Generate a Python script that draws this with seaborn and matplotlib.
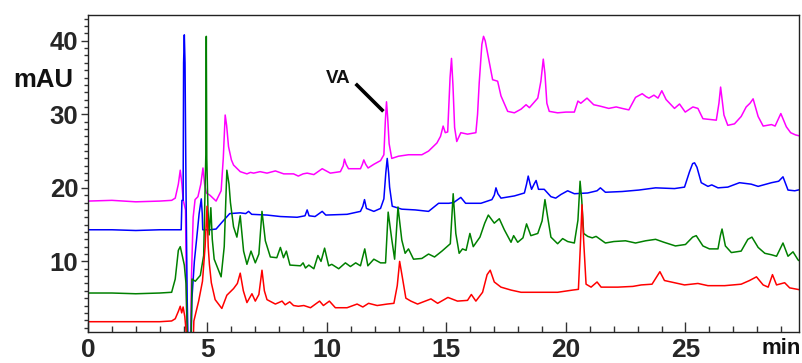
import numpy as np
import pandas as pd
import matplotlib
matplotlib.use("Agg")
import matplotlib.pyplot as plt
from matplotlib.ticker import MultipleLocator
import seaborn as sns

# ---- data (retention time in min, absorbance in mAU) ----
magenta_t = [0, 1.0, 2.0, 3.0, 3.5, 3.65, 3.78, 3.86, 3.93, 3.98, 4.08, 4.13, 4.16, 4.28, 4.33, 4.4, 4.48, 4.6, 4.72, 4.81,
             4.88, 4.95, 5.1, 5.36, 5.57, 5.66, 5.74, 5.8, 5.88, 6.0, 6.09, 6.37, 6.65, 6.8, 6.93, 7.2, 7.49, 7.84, 8.19, 8.6,
             8.8, 9.0, 9.17, 9.45, 9.8, 10.14, 10.56, 10.68, 10.73, 10.8, 10.9, 11.4, 11.48, 11.54, 11.62, 11.72, 11.96, 12.24, 12.38, 12.44,
             12.49, 12.54, 12.6, 12.71, 12.99, 13.41, 13.97, 14.25, 14.6, 14.75, 14.86, 14.95, 15.05, 15.15, 15.21, 15.27, 15.34, 15.43, 15.6, 15.88,
             16.23, 16.3, 16.37, 16.48, 16.55, 16.62, 16.72, 16.93, 17.14, 17.28, 17.56, 17.84, 18.12, 18.33, 18.47, 18.82, 18.95, 19.05, 19.12, 19.2,
             19.3, 19.65, 20.0, 20.35, 20.5, 20.62, 20.88, 21.16, 21.44, 21.79, 22.1, 22.35, 22.63, 22.91, 23.19, 23.35, 23.47, 23.68, 23.85, 24.01,
             24.19, 24.54, 24.75, 24.99, 25.31, 25.52, 25.73, 26.29, 26.4, 26.47, 26.55, 26.61, 26.77, 27.05, 27.33, 27.54, 27.7, 27.83, 28.04, 28.25,
             28.6, 28.75, 28.99, 29.22, 29.4, 29.6, 29.85]
magenta_y = [18.2, 18.3, 18.1, 18.2, 18.3, 18.6, 20.5, 22.4, 20.5, 18.4, 17.0, 2.0, -3, -3, 8, 16, 18.4, 18.8, 20.5, 22.7,
             20.5, 19.3, 19.0, 18.2, 19.6, 24, 29.9, 28.5, 25.6, 23.8, 23.1, 22.2, 21.9, 22.1, 22.0, 22.2, 22.0, 22.3, 21.9, 21.9,
             21.6, 21.9, 22.0, 21.8, 22.6, 22.0, 22.2, 23.0, 23.9, 23.2, 22.6, 22.6, 23.2, 23.8, 23.2, 22.7, 23.2, 23.7, 24.5, 29,
             31.7, 29.5, 26, 24.0, 24.3, 24.5, 24.5, 25.0, 26.1, 27.0, 28.4, 27.5, 27.6, 35, 37.6, 34, 28.2, 26.3, 27.5, 27.3,
             27.5, 30, 34.3, 39.5, 40.6, 40.0, 38.3, 34.7, 34.5, 32.5, 30.4, 30.2, 30.7, 31.3, 30.9, 32.2, 34.5, 37.5, 35.5, 31.5,
             30.4, 30.2, 30.3, 30.3, 31.8, 31.5, 32.2, 31.3, 31.1, 30.8, 31.0, 30.8, 30.6, 32.3, 32.8, 32.4, 32.2, 32.6, 32.2, 33.2,
             32.0, 30.8, 31.4, 30.3, 31.0, 30.8, 29.4, 29.2, 31.5, 33.7, 31.5, 29.9, 28.5, 28.7, 29.7, 31.0, 31.5, 32.1, 29.7, 28.4,
             28.6, 28.4, 30.1, 28.3, 27.5, 27.2, 27.0]

blue_t = [0, 1.0, 2.0, 3.0, 3.9, 3.93, 3.98, 4.0, 4.03, 4.06, 4.1, 4.15, 4.2, 4.3, 4.35, 4.45, 4.55, 4.65, 4.74, 4.78,
          4.8, 5.1, 5.36, 5.6, 5.93, 6.37, 6.6, 6.72, 6.85, 7.49, 8.05, 8.75, 9.08, 9.17, 9.25, 9.5, 9.8, 9.95, 10.84, 11.4,
          11.5, 11.57, 11.65, 11.96, 12.24, 12.38, 12.46, 12.52, 12.58, 12.62, 12.73, 13.13, 13.69, 14.25, 14.67, 15.1, 15.3, 15.6, 15.8, 16.44,
          16.9, 17.0, 17.07, 17.15, 17.28, 17.84, 18.26, 18.35, 18.42, 18.5, 18.56, 18.68, 18.75, 18.85, 19.09, 19.37, 19.57, 19.79, 20.07, 20.35,
          20.91, 21.3, 21.44, 21.65, 22.35, 23.05, 23.75, 24.54, 24.96, 25.17, 25.3, 25.38, 25.48, 25.66, 25.94, 26.1, 26.36, 26.77, 27.26, 27.75,
          28.04, 28.6, 28.9, 29.08, 29.29, 29.57, 29.85]
blue_y = [14.3, 14.3, 14.2, 14.3, 14.3, 18.3, 18.3, 37, 40.8, 37.0, 20, 5, -3, -3, 5, 10, 13.2, 16.5, 18.5, 16.5,
          14.3, 14.3, 14.4, 15.3, 16.5, 16.6, 16.5, 16.8, 16.4, 16.3, 16.1, 16.0, 16.2, 17.0, 16.2, 16.1, 16.8, 16.3, 16.4, 16.8,
          17.5, 18.4, 17.2, 16.8, 17.2, 18.5, 22, 24.0, 22, 20.1, 17.5, 17.1, 17.0, 16.8, 17.9, 17.9, 18.0, 18.7, 17.9, 17.9,
          18.4, 19.0, 20.0, 19.2, 18.6, 18.9, 19.3, 20.5, 21.6, 20.5, 19.8, 20.6, 21.0, 19.8, 19.8, 18.8, 18.6, 19.1, 19.6, 19.2,
          19.3, 19.6, 20.0, 19.4, 19.5, 19.7, 20.0, 19.9, 20.1, 22.2, 23.3, 23.4, 22.8, 20.7, 20.2, 20.4, 20.0, 20.1, 20.7, 20.5,
          20.2, 20.7, 20.9, 21.5, 19.7, 19.6, 19.8]

green_t = [0, 1.0, 2.0, 3.0, 3.5, 3.65, 3.78, 3.86, 3.93, 4.03, 4.1, 4.18, 4.3, 4.35, 4.49, 4.7, 4.84, 4.9, 4.93, 4.95,
           4.97, 5.02, 5.07, 5.14, 5.2, 5.28, 5.57, 5.7, 5.81, 5.9, 5.96, 6.09, 6.23, 6.37, 6.51, 6.65, 6.82, 7.0, 7.15, 7.28,
           7.42, 7.63, 7.9, 8.05, 8.18, 8.3, 8.45, 8.89, 9.0, 9.1, 9.24, 9.45, 9.62, 9.75, 9.9, 10.07, 10.2, 10.49, 10.77, 10.98,
           11.2, 11.4, 11.58, 11.71, 11.96, 12.24, 12.45, 12.56, 12.71, 12.83, 12.97, 13.13, 13.27, 13.41, 13.62, 13.97, 14.25, 14.5, 14.81, 15.16,
           15.28, 15.39, 15.53, 15.67, 15.82, 15.98, 16.12, 16.4, 16.6, 16.75, 17.0, 17.21, 17.42, 17.7, 17.81, 17.98, 18.2, 18.35, 18.53, 18.82,
           19.0, 19.12, 19.23, 19.37, 19.65, 19.86, 20.07, 20.35, 20.5, 20.59, 20.66, 20.74, 20.91, 21.1, 21.26, 21.65, 22.0, 22.49, 22.91, 23.33,
           23.75, 24.1, 24.58, 25.0, 25.3, 25.45, 25.73, 26.0, 26.36, 26.46, 26.53, 26.67, 26.92, 27.33, 27.61, 27.78, 28.04, 28.32, 28.6, 28.81,
           29.08, 29.29, 29.5, 29.71, 29.85]
green_y = [5.7, 5.7, 5.6, 5.7, 5.8, 7.6, 11.5, 12.0, 11.0, 9.5, 7, -3, -3, 7.6, 7.3, 8.1, 10.8, 20, 24.5, 40.6,
           24, 17, 13.6, 17.3, 13, 10.3, 7.9, 12, 22.4, 20.5, 18, 14.7, 13.3, 16.2, 11.4, 9.6, 11.4, 9.8, 11, 16.8,
           12.8, 10.6, 10.5, 11.9, 10.5, 11.4, 9.5, 9.4, 9.8, 9.1, 9.5, 9.0, 10.8, 10.0, 11.8, 9.4, 9.6, 9.0, 9.8, 9.3,
           9.8, 9.4, 11.7, 9.4, 10.3, 9.8, 9.8, 16.7, 13.0, 10.3, 17.4, 12.9, 11.1, 11.7, 10.3, 10.4, 11.0, 10.6, 11.4, 12.4,
           19.2, 13.8, 11.1, 11.7, 11.5, 13.8, 12.0, 13.3, 15.2, 16.3, 15.2, 15.8, 14.3, 12.6, 13.5, 12.6, 13.2, 15.1, 13.5, 13.8,
           15.5, 18.4, 16.1, 13.3, 12.4, 13.1, 12.7, 12.5, 15.6, 20.9, 18.3, 13.8, 13.4, 13.2, 13.4, 12.5, 12.7, 12.8, 12.5, 12.8,
           13.0, 12.6, 12.1, 12.3, 13.3, 13.5, 12.1, 11.7, 11.7, 13.5, 14.4, 12.1, 11.2, 11.4, 13.0, 13.3, 11.9, 11.1, 10.9, 10.7,
           12.5, 10.7, 11.3, 10.2, 9.9]

red_t = [0, 1.0, 2.0, 3.0, 3.5, 3.65, 3.78, 3.86, 3.92, 3.98, 4.05, 4.2, 4.38, 4.43, 4.63, 4.79, 4.9, 4.98, 5.03, 5.08,
         5.16, 5.32, 5.6, 5.81, 6.09, 6.25, 6.37, 6.5, 6.65, 6.86, 7.0, 7.15, 7.28, 7.38, 7.49, 7.84, 8.12, 8.25, 8.44, 8.6,
         8.8, 9.03, 9.31, 9.69, 9.85, 10.1, 10.35, 10.84, 11.26, 11.5, 11.74, 12.1, 12.52, 12.8, 12.94, 13.04, 13.15, 13.3, 13.51, 13.79,
         14.35, 14.63, 15.06, 15.46, 15.88, 16.04, 16.23, 16.51, 16.7, 16.83, 17.0, 17.28, 17.7, 18.12, 18.96, 19.65, 20.28, 20.52, 20.6, 20.67,
         20.74, 20.84, 21.05, 21.3, 21.47, 22.17, 22.8, 23.15, 23.6, 23.93, 24.12, 24.54, 24.96, 25.52, 25.94, 26.64, 27.33, 27.68, 27.97, 28.25,
         28.46, 28.64, 28.81, 29.15, 29.36, 29.85]
red_y = [1.8, 1.8, 1.8, 1.8, 1.9, 2.2, 3.2, 3.9, 3.0, 3.8, 2.5, -3, -3, 1.9, 4.6, 7.3, 12, 17.5, 12, 9.6,
         7.1, 4.8, 3.6, 5.4, 6.3, 7, 8.4, 6, 4.4, 5.6, 4.6, 5.5, 8.8, 6, 4.8, 4.2, 4.6, 4.1, 4.5, 4.0,
         3.9, 4.0, 3.7, 4.6, 4.0, 4.6, 3.7, 3.7, 4.2, 3.8, 4.3, 4.0, 4.2, 4.3, 6.7, 10.0, 7.9, 5.0, 4.6, 4.2,
         4.9, 4.3, 5.1, 4.6, 4.7, 5.5, 4.6, 5.8, 8.2, 8.8, 7.2, 6.5, 6.1, 5.8, 5.8, 5.8, 6.1, 6.2, 12, 17.7,
         12.8, 6.9, 6.5, 7.2, 6.5, 6.5, 6.6, 6.8, 6.9, 8.6, 7.4, 7.1, 6.8, 7.0, 6.7, 6.7, 6.9, 7.4, 7.9, 6.8,
         6.5, 8.2, 6.8, 7.1, 6.4, 6.1]

x_major = [0, 5, 10, 15, 20, 25]
x_major_labels = ["0", "5", "10", "15", "20", "25"]
y_major = [10, 20, 30, 40]
y_major_labels = ["10", "20", "30", "40"]

annot_text = "VA"
annot_text_xy = (10.48, 34.8)
annot_line_t = [11.2, 12.36]
annot_line_y = [34.15, 30.4]

traces = [
    ("magenta", magenta_t, magenta_y, "#ff00ff"),
    ("blue", blue_t, blue_y, "#0000ff"),
    ("green", green_t, green_y, "#008000"),
    ("red", red_t, red_y, "#ff0000"),
]

# ---- plotting ----
sns.set_theme(style="white")
plt.rcParams["font.family"] = ["Liberation Sans", "DejaVu Sans"]

W, H = 803, 363
fig = plt.figure(figsize=(W / 100, H / 100), dpi=100)
ax = fig.add_axes([88 / W, 1 - 332 / H, (799 - 88) / W, (332 - 15) / H])

for name, t, y, c in traces:
    assert len(t) == len(y), name
    df = pd.DataFrame({"t": t, "mAU": y})
    sns.lineplot(data=df, x="t", y="mAU", color=c, lw=1.1, ax=ax,
                 estimator=None, sort=False)

ax.set_xlim(0, 29.75)
ax.set_ylim(0.4, 43.5)
ax.set_xlabel("")
ax.set_ylabel("")

ax.set_xticks(x_major)
ax.set_xticklabels(x_major_labels)
ax.set_yticks(y_major)
ax.set_yticklabels(y_major_labels)
ax.xaxis.set_minor_locator(MultipleLocator(1))
ax.yaxis.set_minor_locator(MultipleLocator(1))

ax.tick_params(axis="x", which="major", direction="in", length=7, width=1,
               color="#333333", labelsize=19, pad=4.5, bottom=True, top=False)
ax.tick_params(axis="x", which="minor", direction="in", length=4, width=1,
               color="#333333", bottom=True, top=False)
ax.tick_params(axis="y", which="major", direction="out", length=5, width=1,
               color="#333333", labelsize=18.5, pad=2, left=True, right=False)
ax.tick_params(axis="y", which="minor", direction="out", length=3, width=1,
               color="#333333", left=True, right=False)
for lab in ax.get_xticklabels() + ax.get_yticklabels():
    lab.set_fontweight("bold")

for s in ax.spines.values():
    s.set_visible(True)
    s.set_color("#222222")
    s.set_linewidth(1.0)

fig.text(73 / W, 1 - 80 / H, "mAU", ha="right", va="center",
         fontsize=18.5, fontweight="bold", color="#111111")
fig.text(801 / W, 1 - 348 / H, "min", ha="right", va="center",
         fontsize=16, fontweight="bold", color="#111111")

ax.text(annot_text_xy[0], annot_text_xy[1], annot_text, ha="center", va="center",
        fontsize=13.5, fontweight="bold", color="#111111")
ax.plot(annot_line_t, annot_line_y, color="black", lw=2.6, solid_capstyle="butt")

fig.savefig("out.png", dpi=100)
